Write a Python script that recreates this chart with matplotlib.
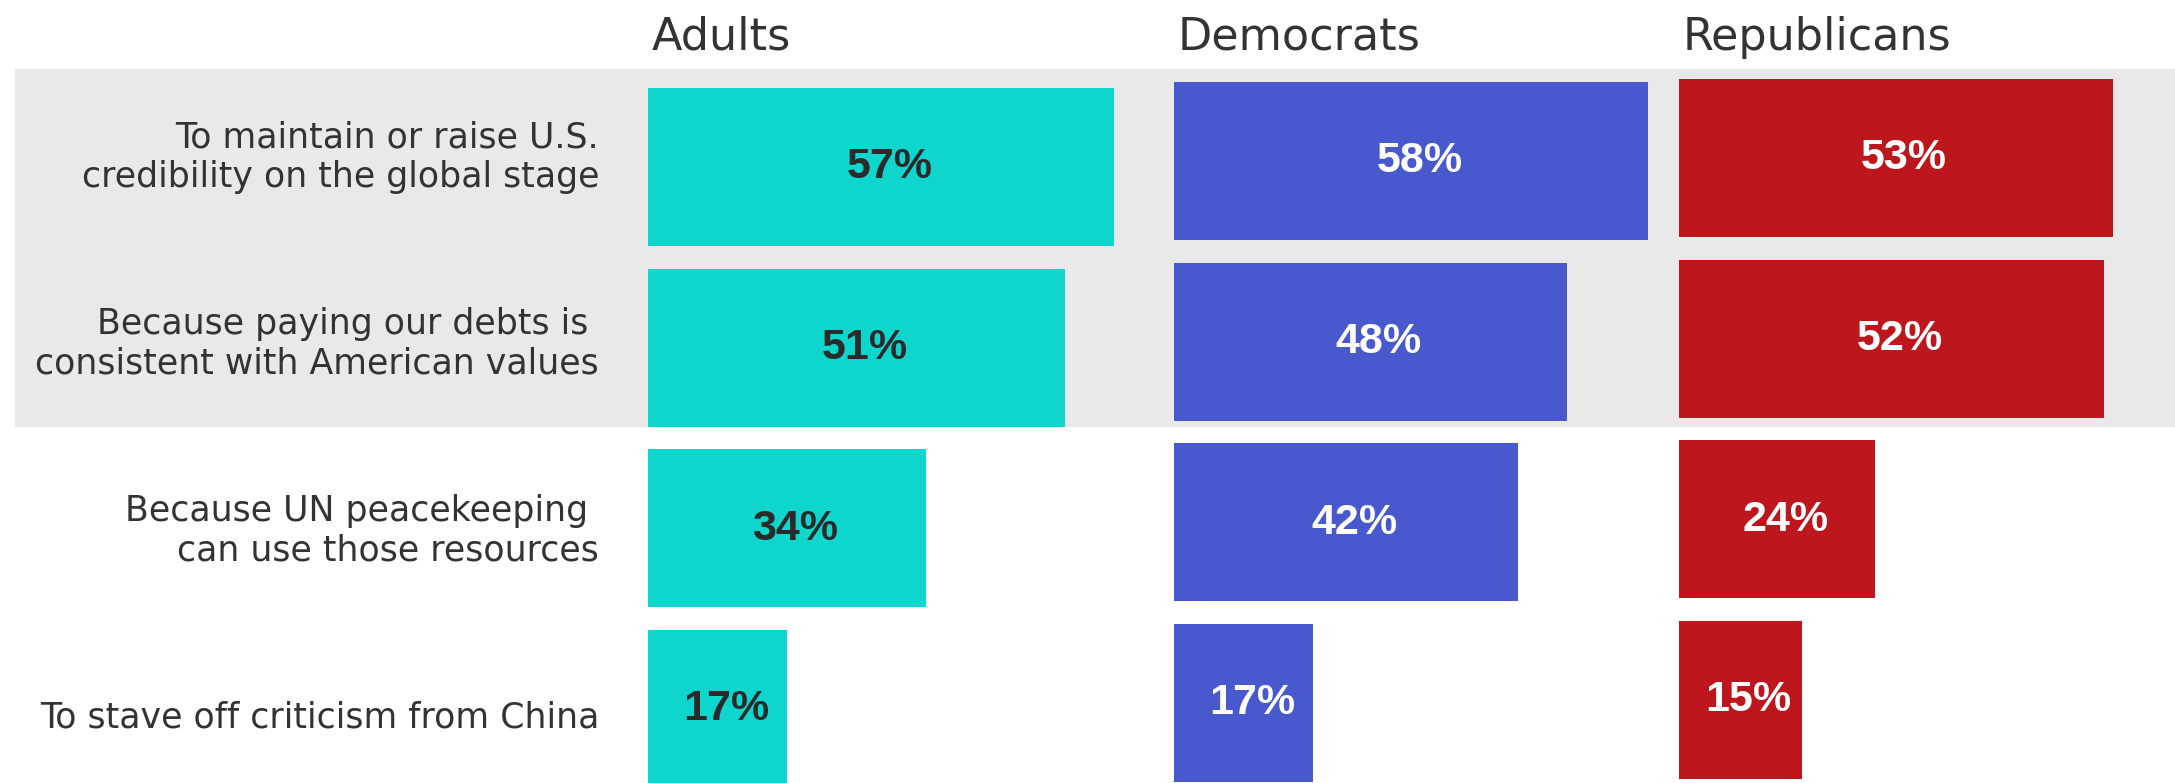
import matplotlib
matplotlib.use("Agg")
import matplotlib.pyplot as plt
from matplotlib.patches import Rectangle

# data
reasons = ["To maintain or raise U.S.\ncredibility on the global stage",
           "Because paying our debts is \nconsistent with American values",
           "Because UN peacekeeping \ncan use those resources",
           "To stave off criticism from China"]
groups = ["Adults", "Democrats", "Republicans"]
adults = [57, 51, 34, 17]
democrats = [58, 48, 42, 17]
republicans = [53, 52, 24, 15]

colors = ["#0ed6cc", "#4759cd", "#bd161c"]
value_colors = ["#2a2a2a", "white", "white"]
text_color = "#333333"

# layout in figure pixels
W, H = 2175, 783
px_per_pct = 8.18
xmax = 60
panel_left = [648, 1174, 1679]
panel_top = [88, 82, 79]   # top edge of first bar
step = 180.7
bar_h = 158


def fx(px):
    return px / W


def fy(px):
    return 1 - px / H


fig = plt.figure(figsize=(W / 100, H / 100), dpi=100)
fig.patch.set_facecolor("white")

# gray band behind the first two rows
fig.add_artist(Rectangle((fx(15), fy(427)), 1 - fx(15), (427 - 69) / H,
                         transform=fig.transFigure, facecolor="#e9e9e9",
                         edgecolor="none", zorder=-5))

for k, (name, vals) in enumerate(zip(groups, [adults, democrats, republicans])):
    top = panel_top[k] - (step - bar_h) / 2
    ax = fig.add_axes([fx(panel_left[k]), fy(top + 4 * step),
                       xmax * px_per_pct / W, 4 * step / H])
    ax.patch.set_visible(False)
    ax.barh(range(len(vals)), vals, height=bar_h / step, color=colors[k])
    ax.set_xlim(0, xmax)
    ax.set_ylim(3.5, -0.5)
    ax.axis("off")
    for i, v in enumerate(vals):
        ax.annotate(f"{v}%", xy=(v / 2, i), xytext=(6, 3),
                    textcoords="offset points", ha="center",
                    va="center_baseline", fontsize=31, fontweight="bold",
                    color=value_colors[k],
                    family=["Liberation Sans", "DejaVu Sans"])
    fig.text(fx(panel_left[k] + 4), fy(50), name, ha="left", va="baseline",
             fontsize=32, color=text_color, family="DejaVu Sans")

for i, label in enumerate(reasons):
    fig.text(fx(599), fy(157 + i * 186.7), label, ha="right", va="center",
             fontsize=25, color=text_color, linespacing=1.2,
             family="DejaVu Sans")

fig.savefig("out.png", dpi=100)
